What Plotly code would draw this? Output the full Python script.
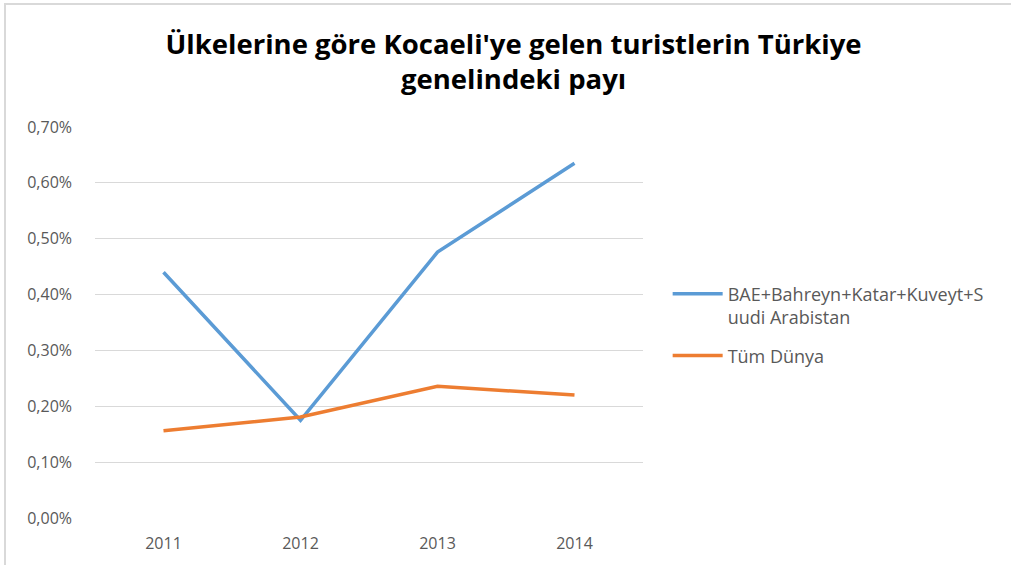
import plotly.graph_objects as go

years = ["2011", "2012", "2013", "2014"]
gcc_share = [0.00440, 0.00175, 0.00476, 0.00635]
world_share = [0.00156, 0.00181, 0.00236, 0.00220]
y_ticks = [0, 0.001, 0.002, 0.003, 0.004, 0.005, 0.006, 0.007]
y_labels = ["0,00%", "0,10%", "0,20%", "0,30%", "0,40%", "0,50%", "0,60%", "0,70%"]
series_names = ["BAE+Bahreyn+Katar+Kuveyt+S<br>uudi Arabistan", "Tüm Dünya"]

fig = go.Figure()
fig.add_trace(go.Scatter(x=years, y=gcc_share, mode="lines", name=series_names[0],
                         legendgroup="g1", line=dict(color="#5b9bd5", width=3.5)))
fig.add_trace(go.Scatter(x=years, y=world_share, mode="lines", name=series_names[1],
                         legendgroup="g2", line=dict(color="#ed7d31", width=3.5)))

W, H = 1011, 565
l, r, t, b = 95, 368, 127, 47
pw, ph = W - l - r, H - t - b

fig.update_layout(
    width=W, height=H,
    margin=dict(l=l, r=r, t=t, b=b),
    paper_bgcolor="white", plot_bgcolor="white",
    title=dict(text="Ülkelerine göre Kocaeli'ye gelen turistlerin Türkiye<br>genelindeki payı",
               x=0.508, xanchor="center", y=0.905, yanchor="middle",
               font=dict(family="Open Sans, sans-serif", size=27.5, color="#000000", weight="bold")),
    xaxis=dict(type="category", range=[-0.5, 3.5], showgrid=False, showline=False, zeroline=False,
               ticks="", ticklabelstandoff=14,
               tickfont=dict(family="Open Sans, sans-serif", size=16, color="#595959")),
    yaxis=dict(range=[0, 0.007], tickvals=y_ticks, ticktext=y_labels, showgrid=True,
               gridcolor="#d9d9d9", gridwidth=1, zeroline=False, showline=False, ticks="",
               ticklabelstandoff=22,
               tickfont=dict(family="Open Sans, sans-serif", size=16, color="#595959")),
    legend=dict(x=1.045, y=0.62, xanchor="left", yanchor="top", valign="top",
                font=dict(family="Open Sans, sans-serif", size=18, color="#595959"),
                tracegroupgap=12, itemwidth=50),
    shapes=[dict(type="rect", xref="paper", yref="paper",
                 x0=(5 - l) / pw, x1=(W + 10 - l) / pw,
                 y0=-(b + 10) / ph, y1=(H - b - 4) / ph,
                 line=dict(color="#d9d9d9", width=2), fillcolor="rgba(0,0,0,0)", layer="below")],
)
fig.write_html("out.html", config={"displayModeBar": False},
               post_script="document.body.style.margin='0';")
